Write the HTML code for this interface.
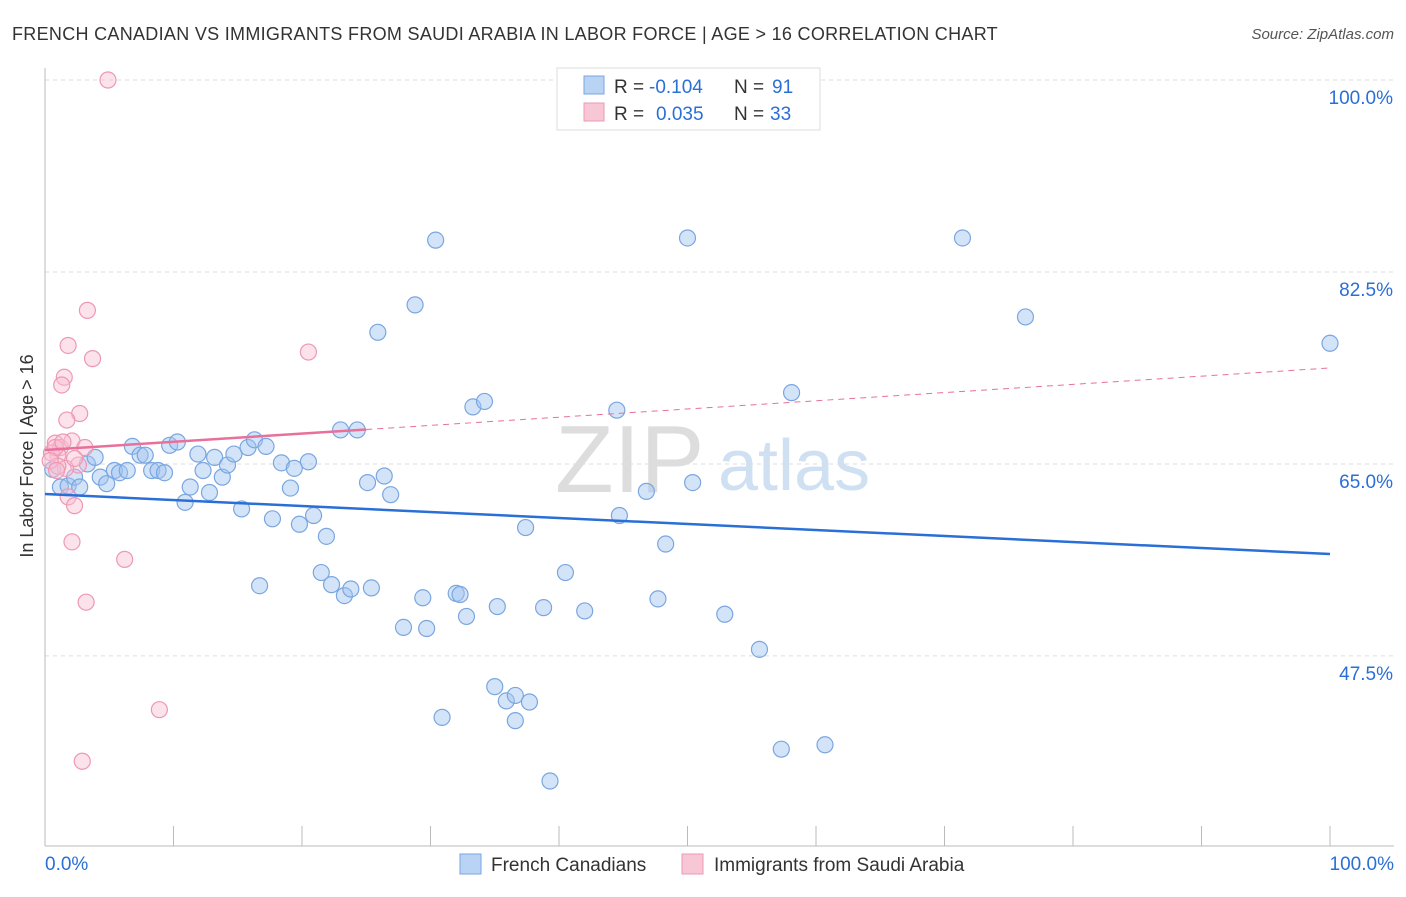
<!DOCTYPE html>
<html><head><meta charset="utf-8"><style>
body{margin:0;background:#fff;font-family:"Liberation Sans",sans-serif}
svg text{font-family:"Liberation Sans",sans-serif}
</style></head><body>
<svg id="chart" width="1406" height="892">
<text x="12" y="40" font-size="18" fill="#333" letter-spacing="0.3">FRENCH CANADIAN VS IMMIGRANTS FROM SAUDI ARABIA IN LABOR FORCE | AGE &gt; 16 CORRELATION CHART</text>
<text x="1394" y="39" font-size="15" fill="#555" text-anchor="end" font-style="italic">Source: ZipAtlas.com</text>
<text x="33" y="456" font-size="18" fill="#333" text-anchor="middle" transform="rotate(-90 33 456)">In Labor Force | Age &gt; 16</text>
<text x="555" y="492" font-size="96" fill="#ddd" font-family="Liberation Serif">ZIP</text>
<text x="718" y="490" font-size="72" fill="#cfe0f3">atlas</text>
<g id="grid"></g><g id="marks"></g>
<g>
<rect x="557" y="68" width="263" height="62" fill="#fff" stroke="#ddd"/>
<rect x="584" y="76" width="20" height="18" fill="#b9d3f5" stroke="#7aa6e0"/>
<rect x="584" y="103" width="20" height="18" fill="#f8c7d6" stroke="#ee98b4"/>
<text x="614" y="93" font-size="19" fill="#333">R =</text>
<text x="649" y="93" font-size="19" fill="#2a6fd6">-0.104</text>
<text x="734" y="93" font-size="19" fill="#333">N =</text>
<text x="772" y="93" font-size="19" fill="#2a6fd6">91</text>
<text x="614" y="120" font-size="19" fill="#333">R =</text>
<text x="656" y="120" font-size="19" fill="#2a6fd6">0.035</text>
<text x="734" y="120" font-size="19" fill="#333">N =</text>
<text x="770" y="120" font-size="19" fill="#2a6fd6">33</text>
</g>
<g>
<rect x="460" y="854" width="21" height="20" fill="#b9d3f5" stroke="#7aa6e0"/>
<text x="491" y="871" font-size="19" fill="#333">French Canadians</text>
<rect x="682" y="854" width="21" height="20" fill="#f8c7d6" stroke="#ee98b4"/>
<text x="714" y="871" font-size="19" fill="#333">Immigrants from Saudi Arabia</text>
</g>
</svg>
<script>
const blueX=[0.6,1.2,1.8,2.3,2.7,3.3,3.9,4.3,4.8,5.4,5.8,6.4,6.8,7.4,7.8,8.3,8.8,9.3,9.7,10.3,10.9,11.3,11.9,12.3,12.8,13.2,13.8,14.2,14.7,15.3,15.8,16.3,16.7,17.2,17.7,18.4,19.1,19.4,19.8,20.5,20.9,21.5,21.9,22.3,23.0,23.3,23.8,24.3,25.1,25.4,25.9,26.4,26.9,27.9,28.8,29.4,29.7,30.4,30.9,32.0,32.3,32.8,33.3,34.2,35.0,35.2,35.9,36.6,36.6,37.4,37.7,38.8,39.3,40.5,42.0,44.5,44.7,46.8,47.7,48.3,50.0,50.4,52.9,55.6,57.3,58.1,60.7,71.4,76.3,100.0];
const blueY=[64.5,62.9,63.0,63.8,62.9,65.0,65.6,63.8,63.2,64.4,64.2,64.4,66.6,65.8,65.8,64.4,64.4,64.2,66.7,67.0,61.5,62.9,65.9,64.4,62.4,65.6,63.8,64.9,65.9,60.9,66.5,67.2,53.9,66.6,60.0,65.1,62.8,64.6,59.5,65.2,60.3,55.1,58.4,54.0,68.1,53.0,53.6,68.1,63.3,53.7,77.0,63.9,62.2,50.1,79.5,52.8,50.0,85.4,41.9,53.2,53.1,51.1,70.2,70.7,44.7,52.0,43.4,43.9,41.6,59.2,43.3,51.9,36.1,55.1,51.6,69.9,60.3,62.5,52.7,57.7,85.6,63.3,51.3,48.1,39.0,71.5,39.4,85.6,78.4,76.0];
const pinkX=[4.9,3.3,1.8,3.7,20.5,1.5,1.3,2.7,1.7,0.8,1.2,2.1,3.1,1.0,0.5,2.6,1.6,1.0,1.8,2.3,2.1,6.2,3.2,8.9,2.9,0.8,1.4,2.3,0.4,0.9];
const pinkY=[100.0,79.0,75.8,74.6,75.2,72.9,72.2,69.6,69.0,66.9,66.5,67.1,66.5,65.8,66.0,64.9,64.6,64.8,62.0,61.2,57.9,56.3,52.4,42.6,37.9,66.5,67.0,65.5,65.3,64.4];
const blueTrend=[62.26,56.79], pinkTrend=[66.27,73.75];
const yTicks=[100,82.5,65,47.5], yTickLabels=["100.0%","82.5%","65.0%","47.5%"];
const X=v=>45+v*12.85, Y=v=>80+(100-v)*10.97;
const NS="http://www.w3.org/2000/svg";
function mk(p,t,a){const e=document.createElementNS(NS,t);for(const k in a)e.setAttribute(k,a[k]);p.appendChild(e);return e;}
const g=document.getElementById('grid'), m=document.getElementById('marks');
yTicks.forEach((t,i)=>{const l=mk(g,'line',{x1:45,x2:1394,y1:Y(t),y2:Y(t),stroke:'#ddd','stroke-dasharray':'4,4'});


const tx=mk(g,'text',{x:1393,y:Y(t)+24,'font-size':19,fill:'#2a6fd6','text-anchor':'end'});tx.textContent=yTickLabels[i];

});
mk(g,'line',{x1:45,x2:45,y1:68,y2:846,stroke:'#bbb'});
mk(g,'line',{x1:45,x2:1394,y1:846,y2:846,stroke:'#bbb'});
for(let i=1;i<=10;i++){const l=mk(g,'line',{x1:45+i*128.5,x2:45+i*128.5,y1:826,y2:846,stroke:'#bbb'});

}
let t1=mk(g,'text',{x:45,y:870,'font-size':19,fill:'#2a6fd6'});t1.textContent='0.0%';


let t2=mk(g,'text',{x:1394,y:870,'font-size':19,fill:'#2a6fd6','text-anchor':'end'});t2.textContent='100.0%';


blueX.forEach((x,i)=>{const c=mk(m,'circle',{cx:X(x),cy:Y(blueY[i]),r:8,fill:'rgba(160,195,240,0.45)',stroke:'#7aa6e0','stroke-width':1.2});

});
pinkX.forEach((x,i)=>{const c=mk(m,'circle',{cx:X(x),cy:Y(pinkY[i]),r:8,fill:'rgba(248,190,210,0.45)',stroke:'#ee98b4','stroke-width':1.2});

});
const pAt=x=>pinkTrend[0]+(pinkTrend[1]-pinkTrend[0])*x/100;
let pl=mk(m,'line',{x1:X(0),y1:Y(pAt(0)),x2:X(25),y2:Y(pAt(25)),stroke:'#e8709a','stroke-width':2.5});


let pd=mk(m,'line',{x1:X(25),y1:Y(pAt(25)),x2:X(100),y2:Y(pAt(100)),stroke:'#e8709a','stroke-width':1,'stroke-dasharray':'6,5'});


let bl=mk(m,'line',{x1:X(0),y1:Y(blueTrend[0]),x2:X(100),y2:Y(blueTrend[1]),stroke:'#2a6fd6','stroke-width':2.5});


</script>
</body></html>
